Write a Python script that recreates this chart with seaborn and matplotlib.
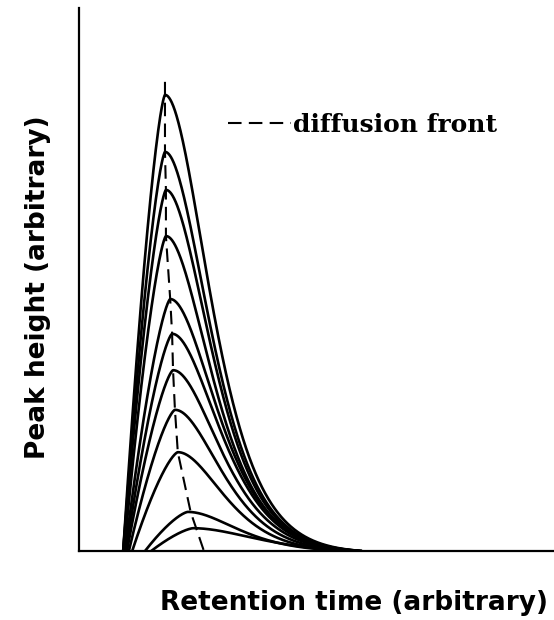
import numpy as np
import pandas as pd
import matplotlib
matplotlib.use("Agg")
import matplotlib.pyplot as plt
import seaborn as sns

# ---- data (arbitrary units, axis 0..100) ----
peak_ids = list(range(1, 12))
peak_apex_time = [18.1, 18.1, 18.3, 18.3, 19.2, 19.6, 19.8, 20.2, 20.8, 22.9, 24.0]
peak_height = [84.0, 73.5, 66.5, 58.0, 46.4, 40.0, 33.3, 26.0, 18.2, 7.2, 4.2]
peak_start_time = [9.3, 9.3, 9.3, 9.5, 9.7, 9.9, 10.1, 10.5, 11.2, 13.9, 15.2]
peak_tail_width = [7.6, 7.6, 7.6, 7.7, 7.9, 8.0, 8.0, 7.9, 7.8, 8.4, 10.5]
peak_end_time = [59.5, 59.5, 59.5, 59.0, 59.0, 58.5, 58.5, 58.0, 58.0, 57.5, 57.5]

front_time = [18.1, 18.1, 18.1, 18.3, 18.3, 19.2, 19.6, 19.8, 20.2, 20.8, 23.5, 26.3]
front_height = [86.4, 84.0, 73.5, 66.5, 58.0, 46.4, 40.0, 33.3, 26.0, 18.2, 7.2, 0.0]

x_label = "Retention time (arbitrary)"
y_label = "Peak height (arbitrary)"
legend_label = "diffusion front"


def peak_shape(t, apex, h, start, w, end, k=0.14, q=1.4):
    y = np.zeros_like(t)
    left = (t >= start) & (t <= apex)
    y[left] = h * (1 - ((apex - t[left]) / (apex - start)) ** q)
    right = (t > apex) & (t < end)
    d = t[right] - apex
    sig = w + k * d
    taper = 1 - (d / (end - apex)) ** 4
    y[right] = h * np.exp(-d ** 2 / (2 * sig ** 2)) * taper
    return y


rows = []
for pid, a, h, s, w, e in zip(peak_ids, peak_apex_time, peak_height,
                              peak_start_time, peak_tail_width, peak_end_time):
    t = np.linspace(s, e, 600)
    y = peak_shape(t, a, h, s, w, e)
    rows.append(pd.DataFrame({"peak": pid, "time": t, "height": y}))
curves = pd.concat(rows, ignore_index=True)
front = pd.DataFrame({"time": front_time, "height": front_height})

sns.set_theme(style="white")
plt.rcParams["font.family"] = ["DejaVu Sans"]

fig = plt.figure(figsize=(5.54, 6.2), dpi=100)
ax = fig.add_axes([79 / 554, 69 / 620, 475 / 554, 543 / 620])

sns.lineplot(data=curves, x="time", y="height", units="peak", estimator=None,
             color="black", linewidth=1.9, ax=ax, legend=False, sort=False)
sns.lineplot(data=front, x="time", y="height", color="black", linewidth=1.5,
             sort=False, ax=ax, label=legend_label, estimator=None)
ax.lines[-1].set_dashes((6.5, 3.5))

ax.set_xlim(0, 100)
ax.set_ylim(0, 100)
ax.set_xticks([])
ax.set_yticks([])
for side in ("top", "right"):
    ax.spines[side].set_visible(False)
for side in ("left", "bottom"):
    ax.spines[side].set_color("black")
    ax.spines[side].set_linewidth(1.6)

ax.set_xlabel(x_label, fontsize=19, fontweight="bold", color="black")
ax.set_ylabel(y_label, fontsize=19, fontweight="bold", color="black")
ax.xaxis.set_label_coords((354 - 79) / 475, (551 - 603) / 543)
ax.xaxis.label.set_va("center")
ax.yaxis.set_label_coords((38 - 79) / 475, (551 - 287) / 543)
ax.yaxis.label.set_va("center")

leg = ax.legend(loc="center left", bbox_to_anchor=((228 - 79) / 475, (551 - 125) / 543),
                frameon=False, borderpad=0, borderaxespad=0, handlelength=2.5,
                handletextpad=0.1,
                prop={"family": "DejaVu Serif", "size": 18, "weight": "bold"})
for txt in leg.get_texts():
    txt.set_color("black")

fig.savefig("out.png", dpi=100)
